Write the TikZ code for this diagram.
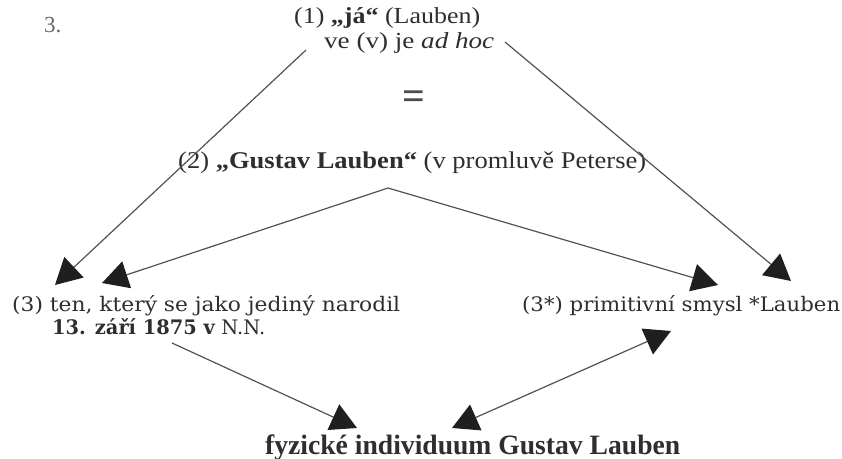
\documentclass[tikz,border=0pt]{standalone}
\usepackage{fontspec}
\setmainfont{Liberation Serif}
\newfontfamily\bkfont{DejaVu Serif}
\usetikzlibrary{arrows.meta}
\newcommand\fitw[2]{\resizebox{#1}{\height}{#2}}
\tikzset{
  txt/.style={inner sep=0pt, anchor=base west, text=black!82},
  headtip/.tip={Triangle[length=26bp,width=28bp,color=black!88]},
  conn/.style={draw=black!68, line width=1.2bp, -headtip},
  dblconn/.style={draw=black!68, line width=1.2bp, headtip-headtip},
}
\begin{document}
\begin{tikzpicture}[x=1bp,y=-1bp]
\useasboundingbox (0,0) rectangle (842,459);
% texts
\node[txt, text=black!60, font=\fontsize{23bp}{25bp}\selectfont] (num) at (44,33) {3.};
\node[txt, font=\fontsize{23bp}{25bp}\selectfont] (n1) at (294,24) {\fitw{186bp}{(1) \textbf{„já“} (Lauben)}};
\node[txt, font=\fontsize{23bp}{25bp}\selectfont] (n1b) at (324,49) {\fitw{170bp}{ve (v) je \textit{ad hoc}}};
\node[inner sep=0pt, text=black!70, font=\fontsize{40bp}{42bp}\selectfont\bfseries] (eq) at (414,100) {=};
\node[txt, font=\fontsize{24bp}{26bp}\selectfont] (n2) at (178,169) {\fitw{468bp}{(2) \textbf{„Gustav Lauben“} (v promluvě Peterse)}};
\node[txt, font=\bkfont\fontsize{20bp}{22bp}\selectfont] (n3a) at (12,312) {\fitw{388bp}{(3) ten, který se jako jediný narodil}};
\node[txt, font=\bkfont\fontsize{20bp}{22bp}\selectfont] (n3b) at (52,335) {\fitw{213bp}{\textbf{13. září 1875 v} N.N.}};
\node[txt, font=\bkfont\fontsize{20bp}{22bp}\selectfont] (n4) at (522,312) {\fitw{318bp}{(3*) primitivní smysl *Lauben}};
\node[txt, font=\fontsize{28bp}{30bp}\selectfont\bfseries] (n5) at (265,454) {\fitw{415bp}{fyzické individuum Gustav Lauben}};
% connector end points
\coordinate (a1s) at (306,50);
\coordinate (a1e) at (55,285);
\coordinate (apex) at (388,188);
\coordinate (a2e) at (102,283);
\coordinate (a3e) at (718,285);
\coordinate (a4s) at (505,42);
\coordinate (a4e) at (791,281);
\coordinate (a5s) at (172,343);
\coordinate (a5e) at (357,428);
\coordinate (a6s) at (452,428);
\coordinate (a6e) at (671,331);
% connectors
\draw[conn] (a1s) -- (a1e);
\draw[conn] (apex) -- (a2e);
\draw[conn] (apex) -- (a3e);
\draw[conn] (a4s) -- (a4e);
\draw[conn] (a5s) -- (a5e);
\draw[dblconn] (a6s) -- (a6e);
\end{tikzpicture}
\end{document}
